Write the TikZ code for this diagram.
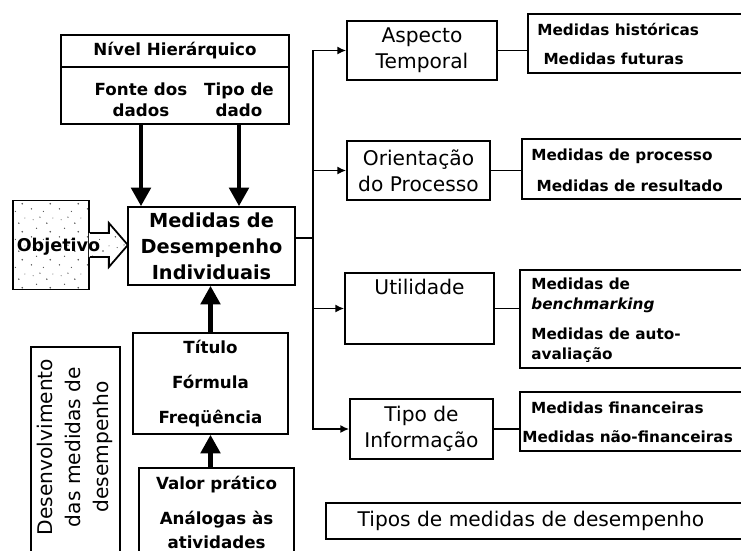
\documentclass[tikz,border=0pt]{standalone}
\usepackage{fontspec}
\setmainfont{DejaVu Sans}
\usepackage{tikz}
\usetikzlibrary{positioning,arrows.meta,patterns.meta}

\tikzdeclarepattern{
    name=pontos,
    type=uncolored,
    bottom left={(0pt,0pt)},
    top right={(16pt,16pt)},
    tile size={(16pt,16pt)},
    code={
        \fill (2pt,3pt) circle (0.45pt);
        \fill (9pt,1.5pt) circle (0.35pt);
        \fill (13pt,6pt) circle (0.5pt);
        \fill (5pt,8pt) circle (0.4pt);
        \fill (11pt,11pt) circle (0.45pt);
        \fill (3pt,13pt) circle (0.35pt);
        \fill (7pt,14.5pt) circle (0.4pt);
        \fill (14.5pt,14pt) circle (0.3pt);
    }
}

\begin{document}
\begin{tikzpicture}[x=0.02cm, y=0.02cm,
        caixa/.style={draw=black, line width=1pt, inner sep=0pt},
        rotulo/.style={inner sep=0pt, align=center, font=\fontsize{11.5}{14.8}\selectfont},
        negrito/.style={inner sep=0pt, align=center, font=\bfseries\fontsize{9.5}{12}\selectfont},
        lista/.style={inner sep=0pt, anchor=west, align=left, font=\bfseries\fontsize{8.7}{17}\selectfont},
        linha/.style={black, line width=0.8pt},
        seta/.style={linha, -{Latex[length=5pt,width=4.5pt]}},
        setagrossa/.style={black, line width=2.3pt, -{Triangle[length=10.5pt,width=11pt]}}]
        \useasboundingbox (0,0) rectangle (741,-551);
        % lado esquerdo
        \node [caixa, negrito, minimum width=4.56cm, minimum height=0.64cm] (nivel) at (175,-51) {Nível Hierárquico};
        \node [caixa, minimum width=4.56cm, minimum height=1.14cm] (nivelb) at (175,-95.5) {};
        \node [negrito] (fonte) at (141,-99.5) {Fonte dos\\dados};
        \node [negrito] (tipo) at (239,-99.5) {Tipo de\\dado};
        \node [caixa, negrito, font=\bfseries\fontsize{11}{14.8}\selectfont, minimum width=3.34cm, minimum height=1.56cm] (medidas) at (211.5,-246) {Medidas de\\Desempenho\\Individuais};
        \node [caixa, pattern=pontos, pattern color=black!70, minimum width=1.52cm, minimum height=1.78cm] (objetivo) at (51,-245) {};
        \fill [pattern=pontos, pattern color=black!70, preaction={fill=white}] (objetivo.east) ++(-1,12) -- ++(20,0) -- ++(0,10) -- ++(19,-22) -- ++(-19,-22) -- ++(0,10) -- ++(-20,0) -- cycle;
        \draw [black, line width=1pt] (objetivo.east) ++(0,12) -- ++(19,0) -- ++(0,10) -- ++(19,-22) -- ++(-19,-22) -- ++(0,10) -- ++(-19,0);
        \node [negrito, font=\bfseries\fontsize{10}{12}\selectfont] (objtxt) at (58.5,-247) {Objetivo};
        \node [caixa, negrito, minimum width=3.1cm, minimum height=2.02cm] (titulo) at (210.5,-383.5) {Título\\[8pt]Fórmula\\[8pt]Freqüência};
        \node [caixa, minimum width=3.1cm, minimum height=1.8cm] (valor) at (216.5,-513) {};
        \node [negrito, font=\bfseries\fontsize{9.5}{13.7}\selectfont] (valortxt) at (216.5,-512.5) {Valor prático\\[6.3pt]Análogas às\\atividades};
        \node [caixa, minimum width=1.78cm, minimum height=4.26cm] (desenv) at (75.5,-453.5) {};
        \node [rotulo, rotate=90, font=\fontsize{11.5}{15.7}\selectfont] (desenvtxt) at (75,-447) {Desenvolvimento\\das medidas de\\desempenho};
        % lado direito
        \node [caixa, rotulo, minimum width=3cm, minimum height=1.18cm] (aspecto) at (422,-50.5) {Aspecto\\Temporal};
        \node [caixa, minimum width=4.64cm, minimum height=1.18cm] (hist) at (644,-43.5) {};
        \node [lista] (histtxt) at (537,-44) {Medidas históricas\\\hspace{3.5pt}Medidas futuras};
        \node [caixa, rotulo, minimum width=2.86cm, minimum height=1.18cm] (orient) at (418.5,-170.5) {Orientação\\do Processo};
        \node [caixa, minimum width=4.76cm, minimum height=1.2cm] (proc) at (641,-169) {};
        \node [lista, font=\bfseries\fontsize{8.7}{17.6}\selectfont] (proctxt) at (531,-170.5) {Medidas de processo\\\hspace{3pt}Medidas de resultado};
        \node [caixa, minimum width=2.98cm, minimum height=1.42cm] (util) at (419.5,-308.5) {};
        \node [rotulo, below=4pt of util.north] (utiltxt) {Utilidade};
        \node [caixa, minimum width=4.8cm, minimum height=1.96cm] (bench) at (640,-319) {};
        \node [lista, font=\bfseries\fontsize{8.7}{11.4}\selectfont] (benchtxt) at (531,-320) {Medidas de\\\textit{benchmarking}\\[5.7pt]Medidas de auto-\\avaliação};
        \node [caixa, rotulo, minimum width=2.86cm, minimum height=1.2cm] (tinfo) at (421.5,-429) {Tipo de\\Informação};
        \node [caixa, minimum width=4.8cm, minimum height=1.18cm] (fin) at (640,-421.5) {};
        \node [lista, font=\bfseries\fontsize{8.7}{16.5}\selectfont] (fintxt) at (522,-422.5) {\hspace{5pt}Medidas financeiras\\Medidas não-financeiras};
        \node [caixa, minimum width=8.68cm, minimum height=0.72cm] (tipos) at (543,-521) {};
        \node [rotulo] (tipostxt) at (531,-521) {Tipos de medidas de desempenho};
        % ligacoes
        \coordinate (tronco) at (313,-238);
        \draw [linha] (medidas.east |- tronco) -- (tronco);
        \draw [seta] (tronco) |- (aspecto.west);
        \draw [seta] (tronco) |- (orient.west);
        \draw [seta] (tronco) |- (util.west);
        \draw [seta] (tronco) |- (tinfo.west);
        \draw [linha] (aspecto.east) -- (aspecto.east -| hist.west);
        \draw [linha] (orient.east) -- (orient.east -| proc.west);
        \draw [linha] (util.east) -- (util.east -| bench.west);
        \draw [linha] (tinfo.east) -- (tinfo.east -| fin.west);
        \draw [setagrossa] (fonte |- nivelb.south) -- (fonte |- medidas.north);
        \draw [setagrossa] (tipo |- nivelb.south) -- (tipo |- medidas.north);
        \draw [setagrossa] (titulo.north) -- (titulo.north |- medidas.south);
        \draw [setagrossa] (titulo.south |- valor.north) -- (titulo.south);
    \end{tikzpicture}
\end{document}
